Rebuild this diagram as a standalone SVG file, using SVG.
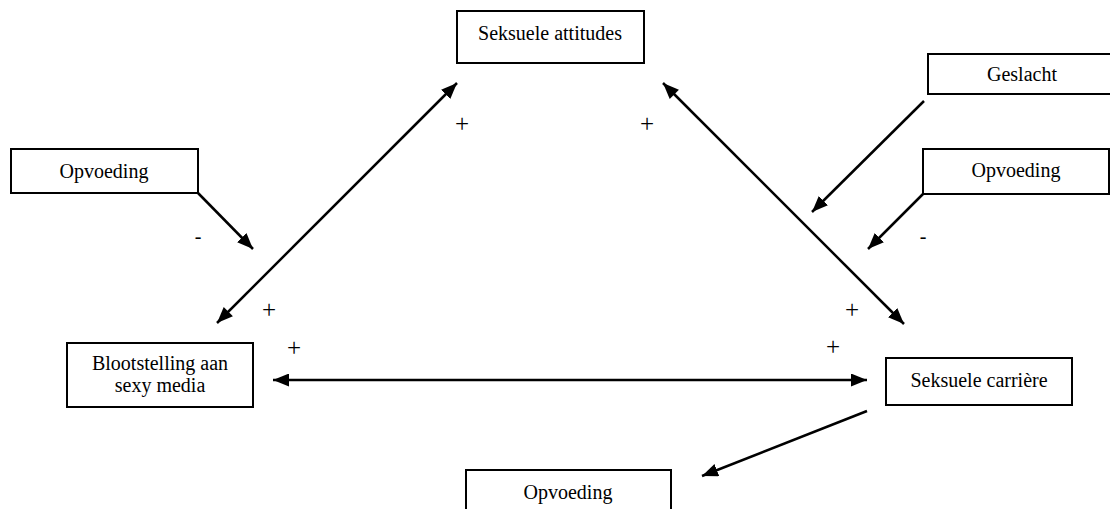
<svg xmlns="http://www.w3.org/2000/svg" width="1110" height="509" viewBox="0 0 1110 509">
<defs>
<style>
.box{fill:#fff;stroke:#000;stroke-width:2}
.t{font-family:"Liberation Serif","Times New Roman",serif;font-size:20px;fill:#000;text-anchor:middle}
.p{font-size:25px}
.c{stroke:#000;stroke-width:2.5;fill:none}
.e{marker-end:url(#ah)}
.b{marker-start:url(#ahs);marker-end:url(#ah)}
</style>
<marker id="ah" markerUnits="userSpaceOnUse" markerWidth="17" markerHeight="14" refX="16" refY="6.5" orient="auto">
<path d="M0,0 L16,6.5 L0,13 z" fill="#000"/>
</marker>
<marker id="ahs" markerUnits="userSpaceOnUse" markerWidth="17" markerHeight="14" refX="0" refY="6.5" orient="auto">
<path d="M16,0 L0,6.5 L16,13 z" fill="#000"/>
</marker>
</defs>
<rect width="1110" height="509" fill="#fff"/>
<g id="connectors">
<line class="c e" x1="198" y1="193" x2="253" y2="249"/>
<line class="c b" x1="217" y1="323" x2="457" y2="83"/>
<line class="c b" x1="663" y1="83" x2="904" y2="324"/>
<line class="c e" x1="924" y1="101" x2="812" y2="212"/>
<line class="c e" x1="923" y1="194" x2="868" y2="249"/>
<line class="c b" x1="273" y1="380" x2="867" y2="380"/>
<line class="c e" x1="867" y1="411" x2="702" y2="476"/>
</g>
<g id="labels">
<text class="t p" x="462" y="132">+</text>
<text class="t p" x="647" y="132">+</text>
<text class="t p" x="269" y="318">+</text>
<text class="t p" x="852" y="318">+</text>
<text class="t p" x="294" y="356">+</text>
<text class="t p" x="833" y="355">+</text>
<text class="t" x="198" y="243">-</text>
<text class="t" x="923" y="243">-</text>
</g>
<g id="seksuele-attitudes">
<rect class="box" x="457" y="11" width="187" height="52"/>
<text class="t" x="550" y="40">Seksuele attitudes</text>
</g>
<g id="opvoeding-links">
<rect class="box" x="11" y="149" width="187" height="44"/>
<text class="t" x="104" y="178">Opvoeding</text>
</g>
<g id="geslacht">
<rect class="box" x="928" y="54" width="188" height="40"/>
<text class="t" x="1022" y="81">Geslacht</text>
</g>
<g id="opvoeding-rechts">
<rect class="box" x="923" y="149" width="186" height="45"/>
<text class="t" x="1016" y="177">Opvoeding</text>
</g>
<g id="blootstelling">
<rect class="box" x="67" y="343" width="186" height="64"/>
<text class="t" x="160" y="370">Blootstelling aan</text>
<text class="t" x="160" y="392">sexy media</text>
</g>
<g id="seksuele-carriere">
<rect class="box" x="886" y="358" width="186" height="47"/>
<text class="t" x="979" y="387">Seksuele carrière</text>
</g>
<g id="opvoeding-onder">
<rect class="box" x="466" y="470" width="205" height="50"/>
<text class="t" x="568" y="499">Opvoeding</text>
</g>
</svg>
